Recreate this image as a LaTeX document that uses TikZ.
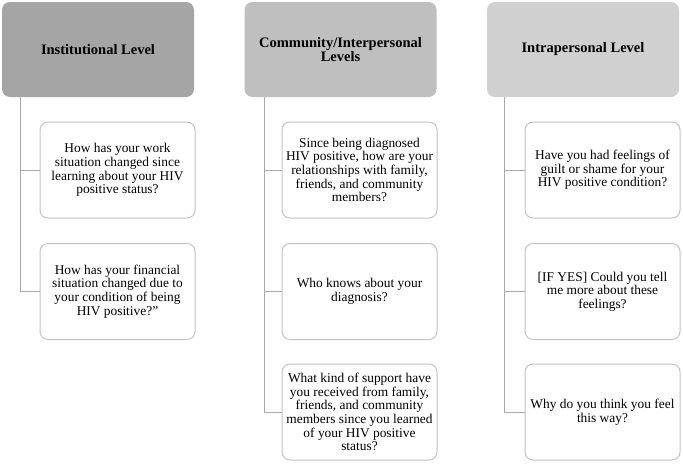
\documentclass[tikz,border=0pt]{standalone}
\usepackage{fontspec}
\setmainfont{Liberation Serif}
\begin{document}
\begin{tikzpicture}[x=1pt,y=-1pt,
  hdr/.style={rounded corners=8pt, minimum width=192pt, minimum height=95pt, inner sep=0pt,
    align=center, font=\fontsize{14.5}{14.2}\selectfont\bfseries},
  qbox/.style={draw=boxgray, line width=1pt, fill=white, rounded corners=8pt,
    minimum width=155pt, minimum height=96pt, inner sep=0pt, align=center,
    font=\fontsize{13.4}{13.6}\selectfont},
  conn/.style={draw=linegray, line width=1pt}]
\definecolor{boxgray}{HTML}{C4C4C4}
\definecolor{linegray}{HTML}{A8A8A8}
\definecolor{h1}{HTML}{A5A5A5}
\definecolor{h2}{HTML}{BFBFBF}
\definecolor{h3}{HTML}{D0D0D0}
\useasboundingbox (0,0) rectangle (683,464);
\fill[white] (0,0) rectangle (683,464);
% headers
\node[hdr, fill=h1] (H1) at (98,49.5) {Institutional Level};
\node[hdr, fill=h2] (H2) at (340.5,49.5) {Community/Interpersonal\\Levels};
\node[hdr, fill=h3] (H3) at (583,49.5) {Intrapersonal Level};
% column 1
\node[qbox] (A1) at (117.5,170) {How has your work\\situation changed since\\learning about your HIV\\positive status?};
\node[qbox] (A2) at (117.5,291.5) {How has your financial\\situation changed due to\\your condition of being\\HIV positive?''};
% column 2
\node[qbox] (B1) at (359.5,170) {Since being diagnosed\\HIV positive, how are your\\relationships with family,\\friends, and community\\members?};
\node[qbox] (B2) at (359.5,291.5) {Who knows about your\\diagnosis?};
\node[qbox] (B3) at (359.5,412) {What kind of support have\\you received from family,\\friends, and community\\members since you learned\\of your HIV positive\\status?};
% column 3
\node[qbox] (C1) at (602.5,170) {Have you had feelings of\\guilt or shame for your\\HIV positive condition?};
\node[qbox] (C2) at (602.5,291.5) {[IF YES] Could you tell\\me more about these\\feelings?};
\node[qbox] (C3) at (602.5,412) {Why do you think you feel\\this way?};
% connectors
\coordinate (P1) at ([xshift=19pt]H1.south west);
\coordinate (P2) at ([xshift=20pt]H2.south west);
\coordinate (P3) at ([xshift=18pt]H3.south west);
\draw[conn] (P1) |- (A1.west);
\draw[conn] (P1) |- (A2.west);
\draw[conn] (P2) |- (B1.west);
\draw[conn] (P2) |- (B2.west);
\draw[conn] (P2) |- (B3.west);
\draw[conn] (P3) |- (C1.west);
\draw[conn] (P3) |- (C2.west);
\draw[conn] (P3) |- (C3.west);
\end{tikzpicture}
\end{document}
